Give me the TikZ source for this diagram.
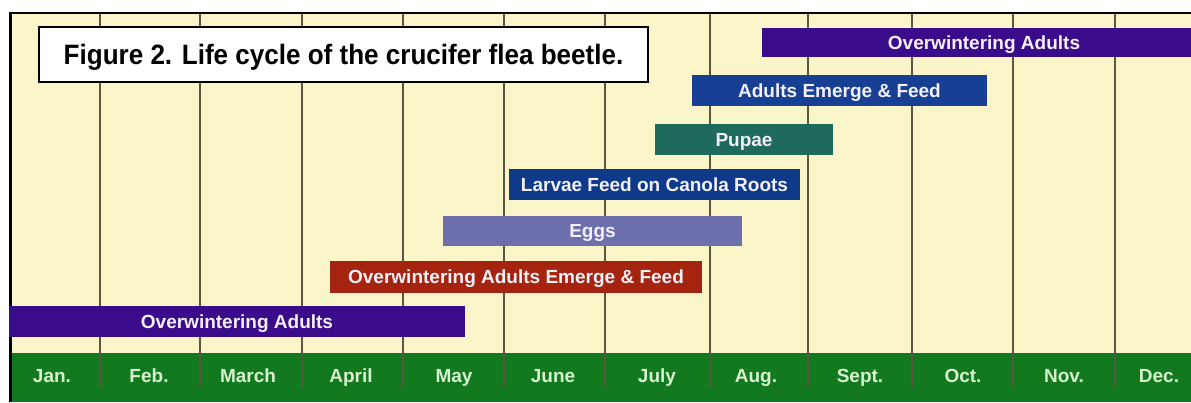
\documentclass[tikz,border=0pt]{standalone}
\usepackage{fontspec}
\setmainfont{Liberation Sans}
\definecolor{bg}{HTML}{FAF6C9}
\definecolor{band}{HTML}{12791F}
\definecolor{purp}{HTML}{3A0C8C}
\definecolor{aefblue}{HTML}{173F93}
\definecolor{teal}{HTML}{1E6B5E}
\definecolor{larvblue}{HTML}{0F3A8A}
\definecolor{eggs}{HTML}{6E6FAD}
\definecolor{rust}{HTML}{A42410}
\definecolor{monthtext}{HTML}{D6F2CE}
\definecolor{bartext}{HTML}{F4F0F8}
\definecolor{gridc}{HTML}{5A5642}
\begin{document}
\begin{tikzpicture}[x=1pt,y=-1pt,
  bar/.style={draw=none, inner sep=0pt, text=bartext, font=\fontsize{19}{21}\selectfont\bfseries, anchor=center, text height=13.6pt, text depth=0pt},
  month/.style={inner sep=0pt, text=monthtext, font=\fontsize{19}{21}\selectfont\bfseries, anchor=base},
  gridline/.style={draw=gridc, line width=1.1pt},
  titlebox/.style={draw=black, line width=2pt, fill=white, inner sep=0pt, anchor=center, text height=20pt, text depth=0pt, font=\fontsize{28}{30}\selectfont\bfseries}]
\useasboundingbox (0,0) rectangle (1191,402);
\fill[white] (0,0) rectangle (1191,402);
\fill[bg] (10,13) rectangle (1191,402);
\fill[band] (10,353) rectangle (1191,402);
\foreach \x in {100,200,302,403,504,605,710,808,912,1013,1115}
  \draw[gridline] (\x,13) -- (\x,388);
% frame
\draw[black, line width=2.5pt] (9,13) -- (1191,13);
\draw[black, line width=3pt] (10.5,13) -- (10.5,402);
% bars
\node[bar, fill=purp, minimum width=444pt, minimum height=29pt] (ow2) at (984,42.5) {Overwintering Adults};
\node[bar, fill=aefblue, minimum width=295pt, minimum height=31pt] (aef) at (839.5,90.5) {Adults Emerge \& Feed};
\node[bar, fill=teal, minimum width=178pt, minimum height=31pt] (pupae) at (744,139.5) {Pupae};
\node[bar, fill=larvblue, minimum width=291pt, minimum height=31pt] (larvae) at (654.5,184.5) {Larvae Feed on Canola Roots};
\node[bar, fill=eggs, minimum width=299pt, minimum height=30pt] (eggs) at (592.5,231) {Eggs};
\node[bar, fill=rust, minimum width=372pt, minimum height=32pt] (oaef) at (516,277) {Overwintering Adults Emerge \& Feed};
\node[bar, fill=purp, minimum width=456pt, minimum height=31pt] (ow1) at (237,321.5) {Overwintering Adults};
% title
\node[titlebox, minimum width=609pt, minimum height=55pt] (title) at (343.5,54.5) {\scalebox{0.93}[1]{Figure 2. Life cycle of the crucifer flea beetle.}};
% months
\node[month] (m1) at (52,382) {Jan.};
\node[month] (m2) at (149,382) {Feb.};
\node[month] (m3) at (248,382) {March};
\node[month] (m4) at (351,382) {April};
\node[month] (m5) at (454,382) {May};
\node[month] (m6) at (553,382) {June};
\node[month] (m7) at (657,382) {July};
\node[month] (m8) at (756,382) {Aug.};
\node[month] (m9) at (860,382) {Sept.};
\node[month] (m10) at (963,382) {Oct.};
\node[month] (m11) at (1064,382) {Nov.};
\node[month] (m12) at (1159,382) {Dec.};
\end{tikzpicture}
\end{document}
